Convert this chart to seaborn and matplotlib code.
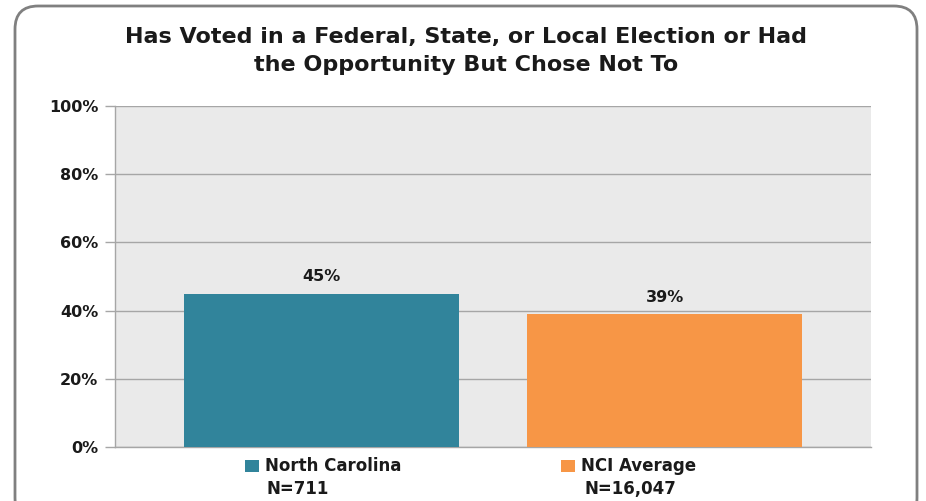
import matplotlib
matplotlib.use("Agg")
import matplotlib.pyplot as plt
import seaborn as sns
import pandas as pd
from matplotlib.patches import FancyBboxPatch, Rectangle

categories = ["North Carolina", "NCI Average"]
sample_sizes = ["N=711", "N=16,047"]
values = [45, 39]
value_labels = ["45%", "39%"]
yticks = [0, 20, 40, 60, 80, 100]
ytick_labels = ["0%", "20%", "40%", "60%", "80%", "100%"]
title = "Has Voted in a Federal, State, or Local Election or Had\nthe Opportunity But Chose Not To"
colors = ["#31849B", "#F79646"]

sns.set_theme(style="white")
plt.rcParams['font.family'] = ['DejaVu Sans']

W, H = 926, 501
fig = plt.figure(figsize=(W / 100, H / 100), dpi=100)
fig.patch.set_facecolor("white")

# rounded border
border = FancyBboxPatch((15 / W, -20 / H), (917 - 15) / W, (H + 20 - 6) / H,
                        boxstyle="round,pad=0,rounding_size=0.025",
                        transform=fig.transFigure, facecolor="none",
                        edgecolor="#808080", linewidth=2.0, zorder=0,
                        mutation_aspect=W / H)
fig.patches.append(border)

ax = fig.add_axes([115 / W, 1 - 447 / H, (871 - 115) / W, (447 - 106) / H])
ax.set_facecolor("#EAEAEA")

df = pd.DataFrame({"cat": categories, "val": values})
sns.barplot(data=df, x="cat", y="val", hue="cat", palette=colors, legend=False,
            width=0.8, saturation=1, linewidth=0, edgecolor="none", ax=ax, zorder=3)

ax.set_xlim(-0.6, 1.6)
ax.set_ylim(0, 100)
ax.set_yticks(yticks)
ax.set_yticklabels(ytick_labels, fontsize=11.5, fontweight="bold", color="#1a1a1a")
ax.yaxis.grid(True, color="#a6a6a6", linewidth=1.0, zorder=0)
ax.set_axisbelow(True)
ax.tick_params(axis="y", length=7, width=1, color="#a6a6a6", pad=5, left=True)
ax.tick_params(axis="x", length=0)
ax.set_xticks([])
ax.set_xlabel("")
ax.set_ylabel("")
for s in ["top", "right"]:
    ax.spines[s].set_visible(False)
for s in ["left", "bottom"]:
    ax.spines[s].set_visible(True)
    ax.spines[s].set_color("#a6a6a6")
    ax.spines[s].set_linewidth(1.0)

for i, (v, lab) in enumerate(zip(values, value_labels)):
    ax.annotate(lab, (i, v), xytext=(0, 12), textcoords="offset points",
                ha="center", va="center", fontsize=11.5, fontweight="bold",
                color="#1a1a1a")

# category labels with colored keys
sq_left = [245, 561]
n_center = [298, 630]
for i, cat in enumerate(categories):
    fig.patches.append(Rectangle((sq_left[i] / W, 1 - 472 / H), 14 / W, 12 / H,
                                 transform=fig.transFigure, facecolor=colors[i],
                                 edgecolor="none"))
    fig.text((sq_left[i] + 20) / W, 1 - 466 / H, cat, ha="left", va="center",
             fontsize=12, fontweight="bold", color="#1a1a1a")
    fig.text(n_center[i] / W, 1 - 489 / H, sample_sizes[i], ha="center", va="center",
             fontsize=12, fontweight="bold", color="#1a1a1a")

fig.text(466 / W, 1 - 51 / H, title, ha="center", va="center", fontsize=16,
         fontweight="bold", color="#1a1a1a", linespacing=1.55)

fig.savefig("out.png", dpi=100, facecolor="white")
